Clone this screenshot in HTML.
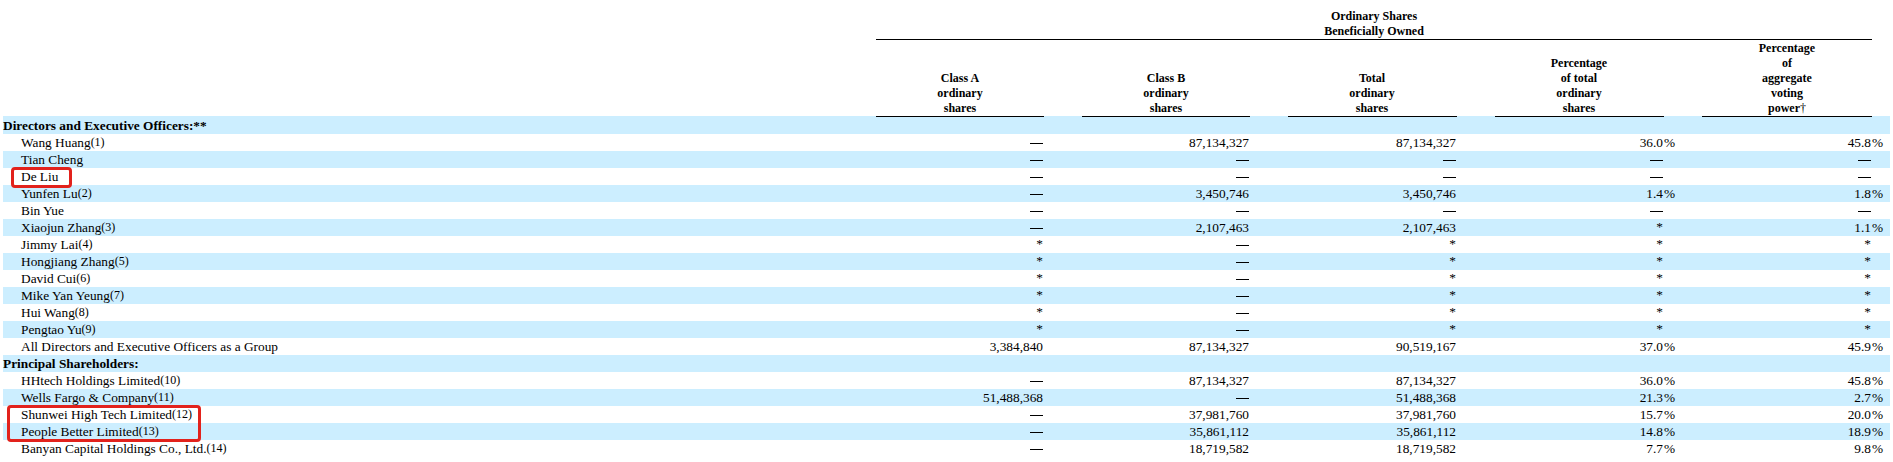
<!DOCTYPE html>
<html><head><meta charset="utf-8"><style>
html,body{margin:0;padding:0;background:#fff;}
body{width:1893px;height:462px;overflow:hidden;position:relative;font-family:"Liberation Serif",serif;font-size:13.333px;color:#000;}
.b{position:absolute;left:3px;width:1887px;height:17px;background:#cceeff;}
.t{position:absolute;height:17px;line-height:17px;white-space:nowrap;}
.r{position:absolute;height:17px;line-height:17px;white-space:nowrap;text-align:right;width:200px;}
.h{position:absolute;font-size:12px;line-height:15px;white-space:nowrap;text-align:center;font-weight:bold;width:240px;}
.fn{font-size:12px;position:relative;top:-1px;}
.ln{position:absolute;height:1px;background:#000;}
.red{position:absolute;border:3px solid #e2221c;border-radius:4px;box-sizing:border-box;}
</style></head><body>

<div class="b" style="top:116px;height:18px"></div>
<div class="b" style="top:151px"></div>
<div class="b" style="top:185px"></div>
<div class="b" style="top:219px"></div>
<div class="b" style="top:253px"></div>
<div class="b" style="top:287px"></div>
<div class="b" style="top:321px"></div>
<div class="b" style="top:355px"></div>
<div class="b" style="top:389px"></div>
<div class="b" style="top:423px"></div>
<div class="t" style="top:117px;left:3px;font-weight:bold">Directors and Executive Officers:**</div>
<div class="t" style="top:134px;left:21px">Wang Huang<span class="fn">(1)</span></div>
<div class="ln" style="top:143px;left:1030px;width:13px"></div>
<div class="r" style="top:134px;left:1049px">87,134,327</div>
<div class="r" style="top:134px;left:1256px">87,134,327</div>
<div class="r" style="top:134px;left:1463px">36.0</div>
<div class="r" style="top:134px;left:1671px">45.8</div>
<div class="t" style="top:134px;left:1664px">%</div>
<div class="t" style="top:134px;left:1872px">%</div>
<div class="t" style="top:151px;left:21px">Tian Cheng</div>
<div class="ln" style="top:160px;left:1030px;width:13px"></div>
<div class="ln" style="top:160px;left:1236px;width:13px"></div>
<div class="ln" style="top:160px;left:1443px;width:13px"></div>
<div class="ln" style="top:160px;left:1650px;width:13px"></div>
<div class="ln" style="top:160px;left:1858px;width:13px"></div>
<div class="t" style="top:168px;left:21px">De Liu</div>
<div class="ln" style="top:177px;left:1030px;width:13px"></div>
<div class="ln" style="top:177px;left:1236px;width:13px"></div>
<div class="ln" style="top:177px;left:1443px;width:13px"></div>
<div class="ln" style="top:177px;left:1650px;width:13px"></div>
<div class="ln" style="top:177px;left:1858px;width:13px"></div>
<div class="t" style="top:185px;left:21px">Yunfen Lu<span class="fn">(2)</span></div>
<div class="ln" style="top:194px;left:1030px;width:13px"></div>
<div class="r" style="top:185px;left:1049px">3,450,746</div>
<div class="r" style="top:185px;left:1256px">3,450,746</div>
<div class="r" style="top:185px;left:1463px">1.4</div>
<div class="r" style="top:185px;left:1671px">1.8</div>
<div class="t" style="top:185px;left:1664px">%</div>
<div class="t" style="top:185px;left:1872px">%</div>
<div class="t" style="top:202px;left:21px">Bin Yue</div>
<div class="ln" style="top:211px;left:1030px;width:13px"></div>
<div class="ln" style="top:211px;left:1236px;width:13px"></div>
<div class="ln" style="top:211px;left:1443px;width:13px"></div>
<div class="ln" style="top:211px;left:1650px;width:13px"></div>
<div class="ln" style="top:211px;left:1858px;width:13px"></div>
<div class="t" style="top:219px;left:21px">Xiaojun Zhang<span class="fn">(3)</span></div>
<div class="ln" style="top:228px;left:1030px;width:13px"></div>
<div class="r" style="top:219px;left:1049px">2,107,463</div>
<div class="r" style="top:219px;left:1256px">2,107,463</div>
<div class="r" style="top:218px;left:1463px">*</div>
<div class="r" style="top:219px;left:1671px">1.1</div>
<div class="t" style="top:219px;left:1872px">%</div>
<div class="t" style="top:236px;left:21px">Jimmy Lai<span class="fn">(4)</span></div>
<div class="r" style="top:235px;left:843px">*</div>
<div class="ln" style="top:245px;left:1236px;width:13px"></div>
<div class="r" style="top:235px;left:1256px">*</div>
<div class="r" style="top:235px;left:1463px">*</div>
<div class="r" style="top:235px;left:1671px">*</div>
<div class="t" style="top:253px;left:21px">Hongjiang Zhang<span class="fn">(5)</span></div>
<div class="r" style="top:252px;left:843px">*</div>
<div class="ln" style="top:262px;left:1236px;width:13px"></div>
<div class="r" style="top:252px;left:1256px">*</div>
<div class="r" style="top:252px;left:1463px">*</div>
<div class="r" style="top:252px;left:1671px">*</div>
<div class="t" style="top:270px;left:21px">David Cui<span class="fn">(6)</span></div>
<div class="r" style="top:269px;left:843px">*</div>
<div class="ln" style="top:279px;left:1236px;width:13px"></div>
<div class="r" style="top:269px;left:1256px">*</div>
<div class="r" style="top:269px;left:1463px">*</div>
<div class="r" style="top:269px;left:1671px">*</div>
<div class="t" style="top:287px;left:21px">Mike Yan Yeung<span class="fn">(7)</span></div>
<div class="r" style="top:286px;left:843px">*</div>
<div class="ln" style="top:296px;left:1236px;width:13px"></div>
<div class="r" style="top:286px;left:1256px">*</div>
<div class="r" style="top:286px;left:1463px">*</div>
<div class="r" style="top:286px;left:1671px">*</div>
<div class="t" style="top:304px;left:21px">Hui Wang<span class="fn">(8)</span></div>
<div class="r" style="top:303px;left:843px">*</div>
<div class="ln" style="top:313px;left:1236px;width:13px"></div>
<div class="r" style="top:303px;left:1256px">*</div>
<div class="r" style="top:303px;left:1463px">*</div>
<div class="r" style="top:303px;left:1671px">*</div>
<div class="t" style="top:321px;left:21px">Pengtao Yu<span class="fn">(9)</span></div>
<div class="r" style="top:320px;left:843px">*</div>
<div class="ln" style="top:330px;left:1236px;width:13px"></div>
<div class="r" style="top:320px;left:1256px">*</div>
<div class="r" style="top:320px;left:1463px">*</div>
<div class="r" style="top:320px;left:1671px">*</div>
<div class="t" style="top:338px;left:21px">All Directors and Executive Officers as a Group</div>
<div class="r" style="top:338px;left:843px">3,384,840</div>
<div class="r" style="top:338px;left:1049px">87,134,327</div>
<div class="r" style="top:338px;left:1256px">90,519,167</div>
<div class="r" style="top:338px;left:1463px">37.0</div>
<div class="r" style="top:338px;left:1671px">45.9</div>
<div class="t" style="top:338px;left:1664px">%</div>
<div class="t" style="top:338px;left:1872px">%</div>
<div class="t" style="top:355px;left:3px;font-weight:bold">Principal Shareholders:</div>
<div class="t" style="top:372px;left:21px">HHtech Holdings Limited<span class="fn">(10)</span></div>
<div class="ln" style="top:381px;left:1030px;width:13px"></div>
<div class="r" style="top:372px;left:1049px">87,134,327</div>
<div class="r" style="top:372px;left:1256px">87,134,327</div>
<div class="r" style="top:372px;left:1463px">36.0</div>
<div class="r" style="top:372px;left:1671px">45.8</div>
<div class="t" style="top:372px;left:1664px">%</div>
<div class="t" style="top:372px;left:1872px">%</div>
<div class="t" style="top:389px;left:21px">Wells Fargo &amp; Company<span class="fn">(11)</span></div>
<div class="r" style="top:389px;left:843px">51,488,368</div>
<div class="ln" style="top:398px;left:1236px;width:13px"></div>
<div class="r" style="top:389px;left:1256px">51,488,368</div>
<div class="r" style="top:389px;left:1463px">21.3</div>
<div class="r" style="top:389px;left:1671px">2.7</div>
<div class="t" style="top:389px;left:1664px">%</div>
<div class="t" style="top:389px;left:1872px">%</div>
<div class="t" style="top:406px;left:21px">Shunwei High Tech Limited<span class="fn">(12)</span></div>
<div class="ln" style="top:415px;left:1030px;width:13px"></div>
<div class="r" style="top:406px;left:1049px">37,981,760</div>
<div class="r" style="top:406px;left:1256px">37,981,760</div>
<div class="r" style="top:406px;left:1463px">15.7</div>
<div class="r" style="top:406px;left:1671px">20.0</div>
<div class="t" style="top:406px;left:1664px">%</div>
<div class="t" style="top:406px;left:1872px">%</div>
<div class="t" style="top:423px;left:21px">People Better Limited<span class="fn">(13)</span></div>
<div class="ln" style="top:432px;left:1030px;width:13px"></div>
<div class="r" style="top:423px;left:1049px">35,861,112</div>
<div class="r" style="top:423px;left:1256px">35,861,112</div>
<div class="r" style="top:423px;left:1463px">14.8</div>
<div class="r" style="top:423px;left:1671px">18.9</div>
<div class="t" style="top:423px;left:1664px">%</div>
<div class="t" style="top:423px;left:1872px">%</div>
<div class="t" style="top:440px;left:21px">Banyan Capital Holdings Co., Ltd.<span class="fn">(14)</span></div>
<div class="ln" style="top:449px;left:1030px;width:13px"></div>
<div class="r" style="top:440px;left:1049px">18,719,582</div>
<div class="r" style="top:440px;left:1256px">18,719,582</div>
<div class="r" style="top:440px;left:1463px">7.7</div>
<div class="r" style="top:440px;left:1671px">9.8</div>
<div class="t" style="top:440px;left:1664px">%</div>
<div class="t" style="top:440px;left:1872px">%</div>
<div class="h" style="top:9px;left:1254px">Ordinary Shares<br>Beneficially Owned</div>
<div class="ln" style="top:39px;left:876px;width:996px"></div>
<div class="h" style="top:71px;left:840px">Class A<br>ordinary<br>shares</div>
<div class="ln" style="top:116px;left:876px;width:168px"></div>
<div class="h" style="top:71px;left:1046px">Class B<br>ordinary<br>shares</div>
<div class="ln" style="top:116px;left:1082px;width:168px"></div>
<div class="h" style="top:71px;left:1252px">Total<br>ordinary<br>shares</div>
<div class="ln" style="top:116px;left:1288px;width:169px"></div>
<div class="h" style="top:56px;left:1459px">Percentage<br>of total<br>ordinary<br>shares</div>
<div class="ln" style="top:116px;left:1495px;width:169px"></div>
<div class="h" style="top:41px;left:1667px">Percentage<br>of<br>aggregate<br>voting<br>power<span style="font-weight:normal">†</span></div>
<div class="ln" style="top:116px;left:1702px;width:170px"></div>
<div class="red" style="left:11px;top:167px;width:61px;height:21px"></div>
<div class="red" style="left:7px;top:405px;width:194px;height:37px"></div>
</body></html>
